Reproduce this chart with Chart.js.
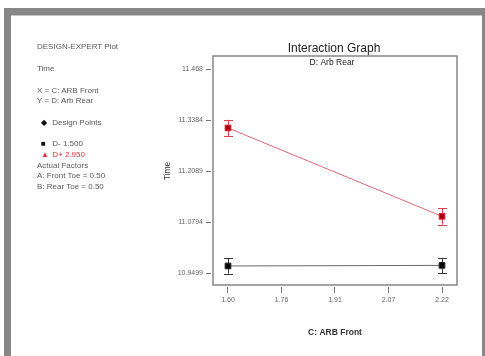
<!DOCTYPE html>
<html>
<head>
<meta charset="utf-8">
<script src="https://cdn.jsdelivr.net/npm/chart.js@4/dist/chart.umd.min.js"></script>
<style>
  html, body { margin: 0; padding: 0; background: #fff; }
  #wrap { position: relative; width: 485px; height: 356px; overflow: hidden; }
  #frame { position: absolute; left: 4px; top: 8px; width: 481px; height: 380px;
           border-left: 7px solid #878787; border-top: 7px solid #878787; border-right: 3px solid #878787;
           box-sizing: border-box; }
  #frameLine { position: absolute; left: 11px; top: 15px; width: 471px; height: 1px; background: #c4c4c4; }
  #chart { position: absolute; left: 0; top: 0; }
  .side { position: absolute; left: 37px; font: 8px "Liberation Sans", Arial, sans-serif; color: #5a5a5a;
          white-space: nowrap; line-height: 10px; }
  .mk { display: inline-block; width: 9px; color: #111; }
</style>
</head>
<body>
<div id="wrap">
  <div id="frame"></div>
  <div id="frameLine"></div>
  <canvas id="chart" width="485" height="356"></canvas>
  <div class="side" style="top:42px">DESIGN-EXPERT Plot</div>
  <div class="side" style="top:64px">Time</div>
  <div class="side" style="top:86px">X = C: ARB Front</div>
  <div class="side" style="top:96px">Y = D: Arb Rear</div>
  <div class="side" style="top:118px;left:41px"><span class="mk">&#9670;</span> Design Points</div>
  <div class="side" style="top:139px;left:41px"><span class="mk">&#9632;</span> D- 1.500</div>
  <div class="side" style="top:150px;left:41px;color:#d8303a"><span class="mk" style="color:#d8303a">&#9650;</span> D+ 2.950</div>
  <div class="side" style="top:161px">Actual Factors</div>
  <div class="side" style="top:171px">A: Front Toe = 0.50</div>
  <div class="side" style="top:182px">B: Rear Toe = 0.50</div>
</div>
<script>
// C: ARB Front levels
const xLevels = [1.60, 2.22];
// Predicted Time at D- (1.500) and D+ (2.950)
const timeDLow = [10.9685, 10.9700];
const timeDHigh = [11.3190, 11.0946];
// half-widths of the error bars (LSD)
const errDLow = [0.0195, 0.0195];
const errDHigh = [0.0205, 0.0210];

const xTickValues = [1.60, 1.755, 1.91, 2.065, 2.22];
const xTickLabels = ["1.60", "1.76", "1.91", "2.07", "2.22"];
const yTickValues = [10.9499, 11.0794, 11.2089, 11.3384, 11.4679];
const yTickLabels = ["10.9499", "11.0794", "11.2089", "11.3384", "11.468"];

const FONT = '"Liberation Sans", Arial, sans-serif';

const series = [
  { label: 'D- 1.500', values: timeDLow, err: errDLow, line: '#6a6a6a', bar: '#3a3a3a', fill: '#000000', edge: '#222222' },
  { label: 'D+ 2.950', values: timeDHigh, err: errDHigh, line: '#e0697a', bar: '#e2404e', fill: '#a80010', edge: '#e0202e' }
];

const decor = {
  id: 'decor',
  beforeDatasetsDraw(chart) {
    const { ctx, chartArea: a, scales: { x, y } } = chart;
    ctx.save();
    // plot frame
    ctx.strokeStyle = '#8e8e8e';
    ctx.lineWidth = 1.6;
    ctx.strokeRect(a.left + 2, a.top + 2, a.right - a.left - 4, a.bottom - a.top - 4);
    // error bars
    ctx.lineWidth = 1;
    series.forEach(s => {
      ctx.strokeStyle = s.bar;
      xLevels.forEach((xv, i) => {
        const px = Math.round(x.getPixelForValue(xv)) + 0.5;
        const pt = y.getPixelForValue(s.values[i] + s.err[i]);
        const pb = y.getPixelForValue(s.values[i] - s.err[i]);
        ctx.beginPath();
        ctx.moveTo(px, pt); ctx.lineTo(px, pb);
        ctx.moveTo(px - 4.5, Math.round(pt) + 0.5); ctx.lineTo(px + 4.5, Math.round(pt) + 0.5);
        ctx.moveTo(px - 4.5, Math.round(pb) + 0.5); ctx.lineTo(px + 4.5, Math.round(pb) + 0.5);
        ctx.stroke();
      });
    });
    ctx.restore();
  },
  afterDraw(chart) {
    const { ctx, chartArea: a } = chart;
    const cx = (a.left + a.right) / 2;
    ctx.save();
    ctx.textAlign = 'center';
    ctx.textBaseline = 'middle';
    ctx.fillStyle = '#222';
    ctx.font = '12px ' + FONT;
    ctx.fillText('Interaction Graph', cx - 1, 49);
    ctx.font = '8.5px ' + FONT;
    ctx.fillText('D: Arb Rear', cx - 3, 63);
    ctx.font = 'bold 8.5px ' + FONT;
    ctx.fillStyle = '#333';
    ctx.fillText('C: ARB Front', cx, 333);
    ctx.translate(167.5, 171);
    ctx.rotate(-Math.PI / 2);
    ctx.font = '8.5px ' + FONT;
    ctx.fillText('Time', 0, 0);
    ctx.restore();
  }
};

new Chart(document.getElementById('chart'), {
  type: 'scatter',
  data: {
    datasets: series.map(s => ({
      label: s.label,
      data: xLevels.map((xv, i) => ({ x: xv, y: s.values[i] })),
      showLine: true,
      borderColor: s.line,
      borderWidth: 1,
      pointStyle: 'rect',
      pointRadius: 4,
      pointBackgroundColor: s.fill,
      pointBorderColor: s.edge,
      pointBorderWidth: 1
    }))
  },
  options: {
    responsive: false,
    animation: false,
    layout: { padding: { top: 54, right: 26, left: 0, bottom: 0 } },
    plugins: { legend: { display: false }, tooltip: { enabled: false } },
    scales: {
      x: {
        type: 'linear',
        min: 1.5508,
        max: 2.2692,
        afterFit(s) { s.height = 69; },
        afterBuildTicks(s) { s.ticks = xTickValues.map(v => ({ value: v })); },
        ticks: {
          callback: (v, i) => xTickLabels[i],
          font: { size: 7, family: FONT },
          color: '#666',
          padding: 3,
          maxRotation: 0,
          autoSkip: false
        },
        grid: { drawOnChartArea: false, drawTicks: true, tickLength: 6, color: '#777' },
        border: { display: false }
      },
      y: {
        min: 10.9151,
        max: 11.5068,
        afterFit(s) { s.width = 211; },
        afterBuildTicks(s) { s.ticks = yTickValues.map(v => ({ value: v })); },
        ticks: {
          callback: (v, i) => yTickLabels[i],
          font: { size: 7, family: FONT },
          color: '#666',
          padding: 3,
          autoSkip: false
        },
        grid: { drawOnChartArea: false, drawTicks: true, tickLength: 5, color: '#777' },
        border: { display: false }
      }
    }
  },
  plugins: [decor]
});
</script>
</body>
</html>
